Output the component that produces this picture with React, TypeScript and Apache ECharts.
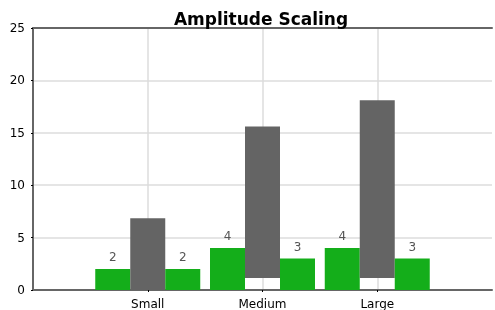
import React, { useEffect, useRef } from "react";
import * as echarts from "echarts";

const categories = ["", "Small", "Medium", "Large", ""];
const leftValues = [null, 2, 4, 4, null];
const rightValues = [null, 2, 3, 3, null];
const rangeLow = [null, 0, 1.15, 1.15, null];
const rangeHigh = [null, 6.85, 15.6, 18.1, null];
const yTicks = { min: 0, max: 25, interval: 5 };

const GREEN = "#14ae1a";
const GRAY = "#646464";
const FONT = "DejaVu Sans";

export default function App() {
  const ref = useRef<HTMLDivElement>(null);
  useEffect(() => {
    if (!ref.current) return;
    const chart = echarts.init(ref.current, null, { renderer: "svg" });
    const base = rangeLow;
    const span = rangeHigh.map((h, i) => (h == null || base[i] == null ? null : +(h - (base[i] as number)).toFixed(3)));
    const label = {
      show: true,
      position: "top" as const,
      color: "#555",
      fontFamily: FONT,
      fontSize: 12,
      distance: 6,
    };
    chart.setOption({
      animation: false,
      title: {
        text: "Amplitude Scaling",
        left: 256,
        textAlign: "center",
        top: 5,
        textStyle: { fontFamily: FONT, fontWeight: "bold", fontSize: 17, color: "#000" },
      },
      grid: { left: 33, right: 0, top: 28, bottom: 19, containLabel: false },
      xAxis: [
        {
          type: "category",
          data: categories,
          boundaryGap: false,
          axisLine: { lineStyle: { color: "#666", width: 2 } },
          axisTick: { show: true, length: 2, lineStyle: { color: "#000" }, interval: (i: number) => i > 0 && i < 4 },
          axisLabel: {
            color: "#000",
            fontFamily: FONT,
            fontSize: 12,
            margin: 8,
            interval: 0,
          },
          splitLine: { show: true, lineStyle: { color: "#ddd", width: 1.5 }, interval: (i: number) => i > 0 && i < 4 },
        },
        {
          type: "category",
          data: categories,
          position: "top",
          boundaryGap: false,
          axisLine: { lineStyle: { color: "#666", width: 2 } },
          axisTick: { show: false },
          axisLabel: { show: false },
          splitLine: { show: false },
        },
      ],
      yAxis: {
        type: "value",
        min: yTicks.min,
        max: yTicks.max,
        interval: yTicks.interval,
        axisLine: { show: true, lineStyle: { color: "#666", width: 2 } },
        axisTick: { show: true, length: 2, lineStyle: { color: "#000" } },
        axisLabel: { color: "#000", fontFamily: FONT, fontSize: 12, margin: 8 },
        splitLine: { show: true, lineStyle: { color: "#ddd", width: 1.5 } },
      },
      series: [
        {
          type: "bar",
          data: leftValues,
          barWidth: 35,
          barGap: "0%",
          itemStyle: { color: GREEN },
          label,
        },
        {
          type: "bar",
          data: base,
          stack: "range",
          barWidth: 35,
          barGap: "0%",
          itemStyle: { color: "transparent" },
          silent: true,
        },
        {
          type: "bar",
          data: span,
          stack: "range",
          barWidth: 35,
          barGap: "0%",
          itemStyle: { color: GRAY },
        },
        {
          type: "bar",
          data: rightValues,
          barWidth: 35,
          barGap: "0%",
          itemStyle: { color: GREEN },
          label,
        },
      ],
    });
    return () => chart.dispose();
  }, []);
  return <div ref={ref} style={{ position: "fixed", left: 0, top: 0, width: 495, height: 310 }} />;
}
